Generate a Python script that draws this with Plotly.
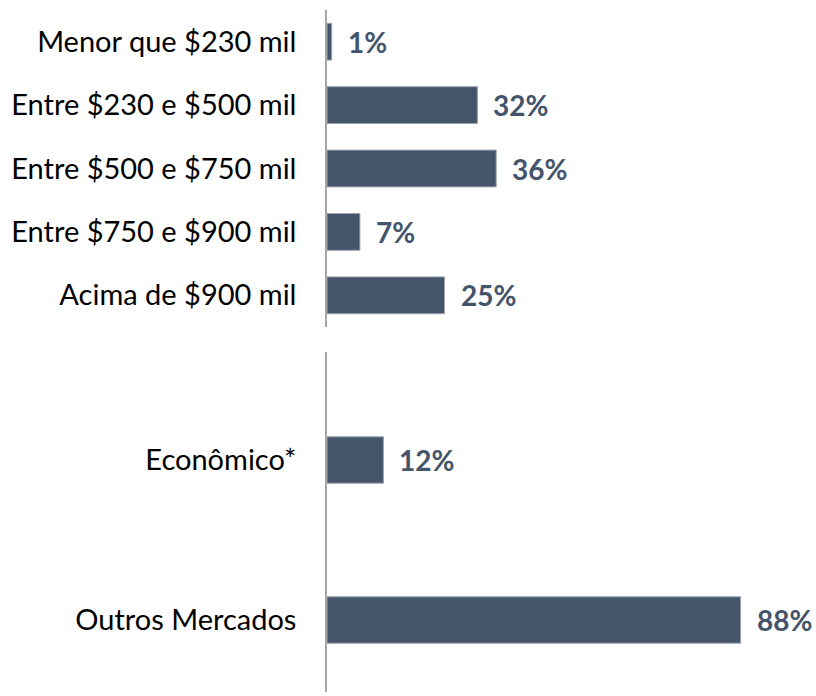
import plotly.graph_objects as go

top_categories = ["Menor que $230 mil", "Entre $230 e $500 mil", "Entre $500 e $750 mil",
                  "Entre $750 e $900 mil", "Acima de $900 mil"]
top_values = [1, 32, 36, 7, 25]
bottom_categories = ["Econômico*", "Outros Mercados"]
bottom_values = [12, 88]

BAR = "#44546A"
FONT = "Lato"
W, H = 816, 696
AX = 327
x0 = AX / W
pxper = 4.7
xmax = (W - AX) / pxper

def ypx(p):
    return (H - p) / H

fig = go.Figure()
fig.add_trace(go.Bar(x=top_values, y=top_categories, orientation="h", width=0.58,
                     marker=dict(color=BAR, line=dict(color="#9aa3ae", width=1)),
                     xaxis="x", yaxis="y", showlegend=False, hoverinfo="skip"))
fig.add_trace(go.Bar(x=bottom_values, y=bottom_categories, orientation="h", width=0.29,
                     marker=dict(color=BAR, line=dict(color="#9aa3ae", width=1)),
                     xaxis="x2", yaxis="y2", showlegend=False, hoverinfo="skip"))

for cats, vals, xr, yr in [(top_categories, top_values, "x", "y"),
                           (bottom_categories, bottom_values, "x2", "y2")]:
    for c, v in zip(cats, vals):
        fig.add_annotation(x=v, y=c, xref=xr, yref=yr, text=f"<b>{v}%</b>",
                           showarrow=False, xanchor="left", yanchor="middle", xshift=14,
                           font=dict(family=FONT, size=28, color=BAR))

axcommon = dict(showgrid=False, zeroline=False, showticklabels=False, showline=False)
ycommon = dict(showgrid=False, zeroline=False, showline=True, linecolor="#a6a6a6",
               linewidth=1.5, ticks="", ticklabelstandoff=23,
               tickfont=dict(family=FONT, size=29, color="black"))
fig.update_layout(
    width=W, height=H, margin=dict(l=0, r=0, t=0, b=0),
    plot_bgcolor="white", paper_bgcolor="white",
    font=dict(family=FONT, size=29, color="black"),
    xaxis=dict(domain=[x0, 1], range=[0, xmax], anchor="y", **axcommon),
    xaxis2=dict(domain=[x0, 1], range=[0, xmax], anchor="y2", **axcommon),
    yaxis=dict(domain=[ypx(327), ypx(10)], anchor="x",
               categoryorder="array", categoryarray=top_categories,
               range=[4.5, -0.5], **ycommon),
    yaxis2=dict(domain=[ypx(692), ypx(352)], anchor="x2",
                categoryorder="array", categoryarray=bottom_categories,
                range=[1.45, -0.675], **ycommon),
)

fig.write_html("out.html", config={"displayModeBar": False},
               post_script="document.body.style.margin='0';")
